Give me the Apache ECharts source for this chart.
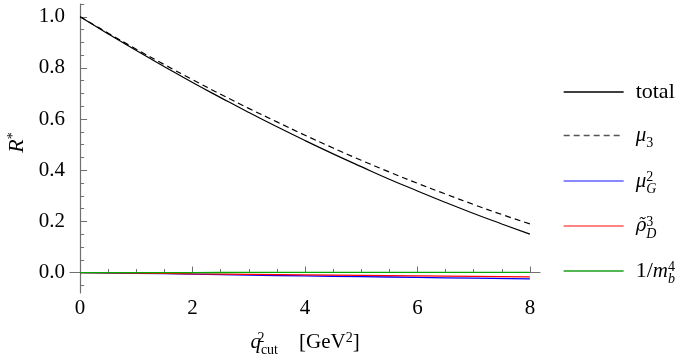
<!DOCTYPE html>
<html>
<head>
<meta charset="utf-8">
<script src="https://cdn.jsdelivr.net/npm/echarts@6/dist/echarts.min.js"></script>
<style>
  html, body { margin: 0; padding: 0; background: #fff; }
  #chart { width: 694px; height: 361px; }
</style>
</head>
<body>
<div id="chart"></div>
<script>
// q^2_cut values (GeV^2) for the two large curves
const qBig = [0, 0.5, 1, 1.5, 2, 2.5, 3, 3.5, 4, 4.5, 5, 5.5, 6, 6.5, 7, 7.5, 8];
const total = [1.000, 0.933, 0.868, 0.805, 0.743, 0.684, 0.626, 0.570, 0.516, 0.464, 0.414, 0.365, 0.319, 0.274, 0.231, 0.190, 0.150];
const mu3 = [1.000, 0.936, 0.873, 0.813, 0.754, 0.697, 0.642, 0.589, 0.537, 0.487, 0.439, 0.393, 0.349, 0.307, 0.266, 0.227, 0.190];

// small corrections
const qSmall = [0, 1, 2, 3, 4, 5, 6, 7, 8];
const muG2 = [0, -0.003, -0.006, -0.010, -0.013, -0.016, -0.019, -0.022, -0.025];
const rhoD3 = [0, -0.002, -0.005, -0.007, -0.009, -0.011, -0.013, -0.015, -0.017];
const mb4 = [0, 0, 0, 0.0003, 0.0005, 0.0006, 0.0008, 0.0009, 0.001];

const xMajor = [0, 2, 4, 6, 8];
const xMinor = [0.5, 1, 1.5, 2.5, 3, 3.5, 4.5, 5, 5.5, 6.5, 7, 7.5];
const yMajor = [0, 0.2, 0.4, 0.6, 0.8, 1.0];
const yMinor = [-0.05, 0.05, 0.1, 0.15, 0.25, 0.3, 0.35, 0.45, 0.5, 0.55, 0.65, 0.7, 0.75, 0.85, 0.9, 0.95, 1.05];

const names = ['total', 'mu3', 'muG', 'rhoD', 'mb4'];
const legendText = {
    total: '{n|total}',
    mu3: '{i|μ}{subr|3}',
    muG: '{i|μ}{sup|2}{sub|G}',
    rhoD: '{t|ρ̃}{sup|3}{sub|D}',
    mb4: '{n|1/}{i|m}{sup|4}{sub|b}'
};
const legendY = [88, 132, 177, 222, 267];

const FONT = "'Liberation Serif', serif";
const rich = {
    n: {fontFamily: FONT, fontSize: 22, lineHeight: 22, color: '#000', verticalAlign: 'middle'},
    i: {fontFamily: FONT, fontSize: 21, fontStyle: 'italic', lineHeight: 22, color: '#000', verticalAlign: 'middle'},
    t: {fontFamily: "'DejaVu Serif', serif", fontSize: 18, fontStyle: 'italic', lineHeight: 22, color: '#000', verticalAlign: 'middle'},
    sup: {fontFamily: FONT, fontSize: 14, lineHeight: 13, width: 0, color: '#000', verticalAlign: 'top'},
    sub: {fontFamily: FONT, fontSize: 14, fontStyle: 'italic', lineHeight: 13, color: '#000', verticalAlign: 'bottom', padding: [0, 0, -4, 0]},
    subr: {fontFamily: FONT, fontSize: 14, lineHeight: 13, color: '#000', verticalAlign: 'bottom', padding: [0, 0, -4, 0]}
};
const tickRich = {d: {fontFamily: FONT, fontSize: 21, color: '#000'}};

const pairs = (xs, ys) => xs.map((x, k) => [x, ys[k]]);

const lineColors = {total: '#000', mu3: '#000', muG: '#0000ff', rhoD: '#ff0000', mb4: '#00a800'};
const legColors = {total: '#000', mu3: '#555', muG: '#6060ff', rhoD: '#ff5a5a', mb4: '#1aa01a'};

const myChart = echarts.init(document.getElementById('chart'));
const axisGray = '#707070';

const series = [
    {name: 'total', data: pairs(qBig, total), lineStyle: {color: lineColors.total, width: 1.2}},
    {name: 'mu3', data: pairs(qBig, mu3), lineStyle: {color: lineColors.mu3, width: 1.2, type: [6, 4]}},
    {name: 'muG', data: pairs(qSmall, muG2), lineStyle: {color: lineColors.muG, width: 1.3}},
    {name: 'rhoD', data: pairs(qSmall, rhoD3), lineStyle: {color: lineColors.rhoD, width: 1.3}},
    {name: 'mb4', data: pairs(qSmall, mb4), lineStyle: {color: lineColors.mb4, width: 1.3}}
].map(s => Object.assign({type: 'line', symbol: 'none', smooth: true, itemStyle: {color: s.lineStyle.color}, animation: false, xAxisIndex: 0, yAxisIndex: 0}, s));

const legends = names.map((nm, k) => ({
    data: [{
        name: nm,
        itemStyle: {opacity: 0},
        lineStyle: {color: legColors[nm], width: 1.3, opacity: 1, type: nm == 'mu3' ? [6, 4] : 'solid'}
    }],
    left: 563,
    top: legendY[k] - 7,
    padding: 0,
    itemWidth: 60,
    itemHeight: 14,
    selectedMode: false,
    formatter: () => legendText[nm],
    textStyle: {rich: rich, padding: [0, 0, 0, 7]}
}));

const option = {
    backgroundColor: '#fff',
    animation: false,
    textStyle: {fontFamily: FONT, fontSize: 19, color: '#000'},
    grid: {left: 70, right: 154, top: 4, bottom: 68, containLabel: false, outerBoundsMode: 'none'},
    legend: legends,
    xAxis: [
        {
            type: 'value', min: -0.18, max: 8.18,
            axisLine: {lineStyle: {color: axisGray, width: 1.2}},
            axisTick: {inside: true, length: 6, customValues: xMajor, lineStyle: {color: axisGray}},
            axisLabel: {customValues: xMajor, margin: 5, rich: tickRich, formatter: v => '{d|' + v + '}'},
            splitLine: {show: false},
            name: '{i|q}{sup|2}{sub|cut}{n|    [GeV}{sup2|2}{n|]}',
            nameLocation: 'middle',
            nameGap: 38,
            nameTextStyle: {
                rich: Object.assign({}, rich, {
                    i: {fontFamily: FONT, fontSize: 21, fontStyle: 'italic', lineHeight: 22, color: '#000', verticalAlign: 'middle'},
                    n: {fontFamily: FONT, fontSize: 21, lineHeight: 22, color: '#000', verticalAlign: 'middle'},
                    sub: {fontFamily: FONT, fontSize: 14, lineHeight: 13, color: '#000', verticalAlign: 'bottom', padding: [0, 0, -4, 0]},
                    sup2: {fontFamily: FONT, fontSize: 14, lineHeight: 13, color: '#000', verticalAlign: 'top'}
                })
            }
        },
        {
            type: 'value', min: -0.18, max: 8.18, position: 'bottom',
            axisLine: {show: false},
            axisTick: {inside: true, length: 3.5, customValues: xMinor, lineStyle: {color: axisGray}},
            axisLabel: {show: false},
            splitLine: {show: false}
        }
    ],
    yAxis: [
        {
            type: 'value', min: -0.08, max: 1.05,
            axisLine: {show: true, lineStyle: {color: axisGray, width: 1.2}},
            axisTick: {show: true, inside: true, length: 7, customValues: yMajor, lineStyle: {color: axisGray}},
            axisLabel: {customValues: yMajor, margin: 5, rich: tickRich, formatter: v => '{d|' + v.toFixed(1) + '}'},
            splitLine: {show: false},
            name: '{i|R}{sup2|*}',
            nameLocation: 'middle',
            nameRotate: 90,
            nameGap: 42,
            nameTextStyle: {
                padding: [0, 0, 0, 12],
                rich: Object.assign({}, rich, {
                    i: {fontFamily: FONT, fontSize: 22, fontStyle: 'italic', lineHeight: 22, color: '#000', verticalAlign: 'middle'},
                    sup2: {fontFamily: FONT, fontSize: 14, lineHeight: 13, color: '#000', verticalAlign: 'top'}
                })
            }
        },
        {
            type: 'value', min: -0.08, max: 1.05, position: 'left',
            axisLine: {show: false},
            axisTick: {show: true, inside: true, length: 4, customValues: yMinor, lineStyle: {color: axisGray}},
            axisLabel: {show: false},
            splitLine: {show: false}
        }
    ],
    series: series
};
myChart.setOption(option);
</script>
</body>
</html>
